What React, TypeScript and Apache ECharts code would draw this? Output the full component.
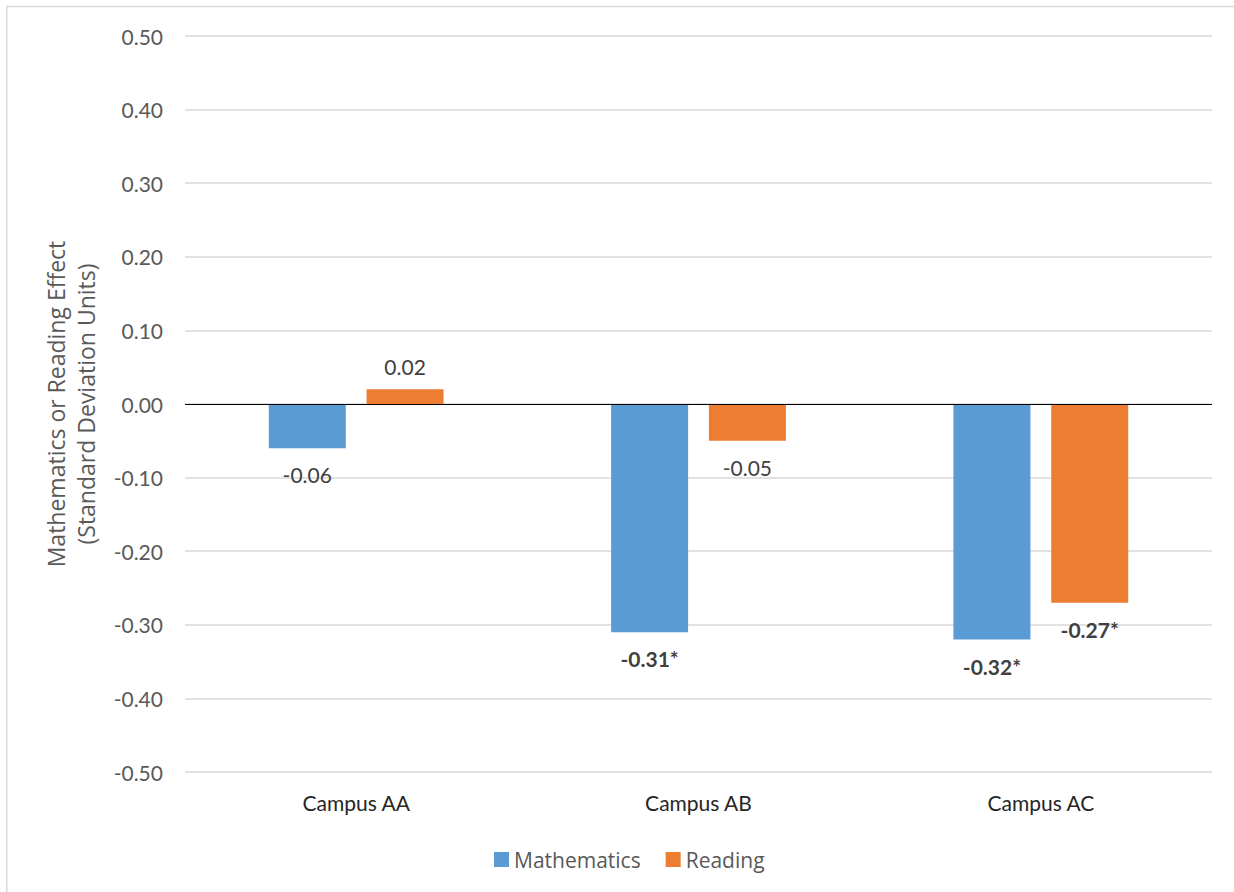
import React, { useEffect, useRef } from "react";
import * as echarts from "echarts";

// Campus-level effect sizes (standard deviation units)
const campuses = ["Campus AA", "Campus AB", "Campus AC"];
const mathematics = [-0.06, -0.31, -0.32];
const reading = [0.02, -0.05, -0.27];
// Statistically significant estimates are starred and shown in bold
const mathSignificant = [false, true, true];
const readingSignificant = [false, false, true];

const yTicks = { min: -0.5, max: 0.5, step: 0.1 };

const FONT = "Lato, 'Noto Sans', sans-serif";
const WIDE_FONT = "'Open Sans', 'Noto Sans', sans-serif";

function labelled(values: number[], significant: boolean[]) {
  return values.map((v, i) => ({
    value: v,
    label: {
      show: true,
      position: v < 0 ? "bottom" : "top",
      distance: v < 0 ? 16 : 12,
      fontFamily: FONT,
      fontSize: 21,
      color: "#404040",
      fontWeight: significant[i] ? "bold" : "normal",
      formatter: () => v.toFixed(2) + (significant[i] ? "*" : ""),
    },
  }));
}

export default function App() {
  const ref = useRef<HTMLDivElement>(null);

  useEffect(() => {
    if (!ref.current) return;
    const chart = echarts.init(ref.current, null, { renderer: "svg" });
    chart.setOption({
      animation: false,
      backgroundColor: "#ffffff",
      textStyle: { fontFamily: FONT },
      graphic: [
        {
          type: "rect",
          shape: { x: 6.75, y: 6.5, width: 1400, height: 1000 },
          style: { fill: "none", stroke: "#D9D9D9", lineWidth: 1.5 },
          silent: true,
        },
      ],
      grid: { left: 185, right: 22, top: 36, bottom: 120 },
      legend: {
        left: 494,
        top: 849,
        padding: 0,
        itemWidth: 15,
        itemHeight: 15,
        itemGap: 25,
        icon: "rect",
        textStyle: { fontFamily: WIDE_FONT, fontSize: 21, color: "#595959" },
        data: ["Mathematics", "Reading"],
      },
      xAxis: {
        type: "category",
        data: campuses,
        axisLine: { show: false, onZero: false },
        axisTick: { show: false },
        axisLabel: {
          fontFamily: FONT,
          fontSize: 21,
          color: "#262626",
          margin: 20,
        },
      },
      yAxis: {
        type: "value",
        min: yTicks.min,
        max: yTicks.max,
        interval: yTicks.step,
        name: "Mathematics or Reading Effect\n(Standard Deviation Units)",
        nameLocation: "middle",
        nameRotate: 90,
        nameGap: 84,
        nameTextStyle: {
          fontFamily: WIDE_FONT,
          fontSize: 23,
          color: "#595959",
          lineHeight: 30,
        },
        axisLine: { show: false },
        axisTick: { show: false },
        axisLabel: {
          fontFamily: FONT,
          fontSize: 21,
          color: "#595959",
          margin: 22,
          formatter: (v: number) => v.toFixed(2),
        },
        splitLine: { lineStyle: { color: "#D9D9D9", width: 1.5 } },
      },
      series: [
        {
          name: "Mathematics",
          type: "bar",
          barWidth: 77,
          barGap: "27%",
          itemStyle: { color: "#5B9BD5" },
          data: labelled(mathematics, mathSignificant),
          markLine: {
            silent: true,
            symbol: "none",
            label: { show: false },
            lineStyle: { color: "#000000", width: 1.2, type: "solid" },
            data: [{ yAxis: 0 }],
          },
        },
        {
          name: "Reading",
          type: "bar",
          barWidth: 77,
          barGap: "27%",
          itemStyle: { color: "#ED7D31" },
          data: labelled(reading, readingSignificant),
        },
      ],
    });
    return () => chart.dispose();
  }, []);

  return (
    <div
      ref={ref}
      style={{ position: "fixed", left: 0, top: 0, width: 1234, height: 892 }}
    />
  );
}
